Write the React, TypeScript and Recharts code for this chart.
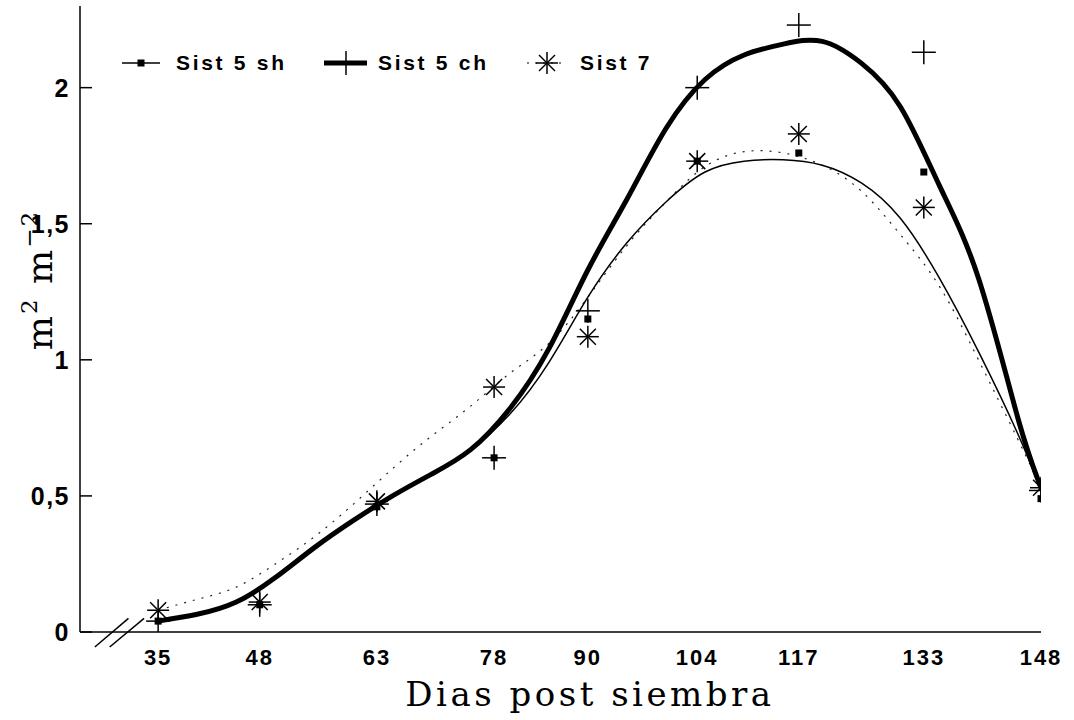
import {
  ComposedChart,
  Line,
  Scatter,
  XAxis,
  YAxis,
  Legend,
  ReferenceLine,
} from "recharts";

// observed days (x tick labels too)
const obsDays = [35, 48, 63, 78, 90, 104, 117, 133, 148];
const obsSh = [0.04, 0.1, 0.46, 0.64, 1.15, 1.73, 1.76, 1.69, 0.49];
const obsCh = [0.04, 0.1, 0.47, 0.64, 1.18, 2.0, 2.23, 2.13, 0.52];
const obs7 = [0.08, 0.11, 0.48, 0.9, 1.085, 1.73, 1.83, 1.56, 0.53];

// fitted curves
const curveDays = [35, 40, 45, 50, 55, 60, 65, 70, 75, 80, 85, 90, 95, 100, 105, 110, 115, 120, 125, 130, 135, 140, 145, 148];
const fitSh = [0.04, 0.065, 0.11, 0.2, 0.31, 0.41, 0.5, 0.58, 0.67, 0.8, 0.99, 1.23, 1.43, 1.58, 1.69, 1.73, 1.735, 1.715, 1.65, 1.52, 1.3, 1.03, 0.73, 0.52];
const fitCh = [0.04, 0.065, 0.11, 0.2, 0.31, 0.41, 0.5, 0.58, 0.67, 0.82, 1.04, 1.33, 1.59, 1.85, 2.03, 2.12, 2.16, 2.17, 2.09, 1.93, 1.64, 1.3, 0.79, 0.53];
const fit7 = [0.08, 0.12, 0.165, 0.25, 0.35, 0.47, 0.6, 0.72, 0.83, 0.95, 1.06, 1.23, 1.42, 1.58, 1.71, 1.765, 1.76, 1.715, 1.62, 1.46, 1.27, 1.0, 0.71, 0.53];

const yTicks = [0, 0.5, 1, 1.5, 2];
const seriesNames = ["Sist 5 sh", "Sist 5 ch", "Sist 7"];

const pts = (xs: number[], ys: number[]) => xs.map((x, i) => ({ x, y: ys[i] }));

const SANS = "'Liberation Sans', Arial, sans-serif";
const SERIF = "'DejaVu Serif', 'Liberation Serif', serif";

function Square({ cx, cy }: any) {
  return <rect x={cx - 3.5} y={cy - 3.5} width={7} height={7} fill="#000" />;
}

function Plus({ cx, cy }: any) {
  return (
    <g stroke="#000" strokeWidth={1.5}>
      <line x1={cx - 12} x2={cx + 12} y1={cy} y2={cy} />
      <line x1={cx} x2={cx} y1={cy - 12} y2={cy + 12} />
    </g>
  );
}

function Star({ cx, cy }: any) {
  const d = 8;
  return (
    <g stroke="#000" strokeWidth={1.5}>
      <line x1={cx - 11} x2={cx + 11} y1={cy} y2={cy} />
      <line x1={cx} x2={cx} y1={cy - 11} y2={cy + 11} />
      <line x1={cx - d} x2={cx + d} y1={cy - d} y2={cy + d} />
      <line x1={cx - d} x2={cx + d} y1={cy + d} y2={cy - d} />
    </g>
  );
}

function XTick({ x, y, payload }: any) {
  return (
    <text x={x} y={y} dy={25} textAnchor="middle" fontFamily={SANS} fontWeight="bold" fontSize={22} letterSpacing={2} fill="#000">
      {payload.value}
    </text>
  );
}

function YTick({ x, y, payload }: any) {
  return (
    <g>
      <line x1={x + 10} x2={x + 22} y1={y} y2={y} stroke="#000" strokeWidth={1.5} />
      <text x={x} y={y} dy={9} textAnchor="end" fontFamily={SANS} fontWeight="bold" fontSize={25} letterSpacing={1.5} fill="#000">
        {String(payload.value).replace(".", ",")}
      </text>
    </g>
  );
}

function YLabel() {
  return (
    <text transform="translate(52,280) rotate(-90)" textAnchor="middle" fontFamily={SERIF} fontSize={36} letterSpacing={2} fill="#000">
      m<tspan dy={-15} fontSize={23}>2</tspan>
      <tspan dy={15}> m</tspan>
      <tspan dy={-15} fontSize={23}>−2</tspan>
    </text>
  );
}

function XLabel() {
  return (
    <text x={590} y={706} textAnchor="middle" fontFamily={SERIF} fontSize={34} letterSpacing={3.5} fill="#000">
      Dias post siembra
    </text>
  );
}

function LegendBox() {
  const txt = { fontFamily: SANS, fontWeight: "bold" as const, fontSize: 21, letterSpacing: 2.7 };
  return (
    <svg width={600} height={30} style={{ display: "block" }}>
      <line x1={12} x2={50} y1={15} y2={15} stroke="#000" strokeWidth={1.5} />
      <Square cx={31} cy={15} />
      <text x={66} y={22} {...txt}>{seriesNames[0]}</text>
      <line x1={214} x2={257} y1={15} y2={15} stroke="#000" strokeWidth={5} />
      <line x1={236} x2={236} y1={3} y2={27} stroke="#000" strokeWidth={1.5} />
      <text x={268} y={22} {...txt}>{seriesNames[1]}</text>
      <line x1={417} x2={457} y1={15} y2={15} stroke="#000" strokeWidth={1.2} strokeDasharray="2 6" />
      <Star cx={437} cy={15} />
      <text x={470} y={22} {...txt}>{seriesNames[2]}</text>
    </svg>
  );
}

export default function App() {
  return (
    <div style={{ position: "absolute", left: 0, top: 0, width: 1074, height: 720, background: "#fff", fontFamily: SANS }}>
      <ComposedChart width={1074} height={720} margin={{ top: 6, right: 33, bottom: 0, left: 0 }}>
        <XAxis
          type="number"
          dataKey="x"
          domain={[25, 148]}
          ticks={obsDays}
          interval={0}
          allowDataOverflow
          tickLine={false}
          axisLine={{ stroke: "#000", strokeWidth: 1.5 }}
          tick={<XTick />}
          height={88}
          label={<XLabel />}
        />
        <YAxis
          type="number"
          dataKey="y"
          domain={[0, 2.3]}
          ticks={yTicks}
          interval={0}
          allowDataOverflow
          width={80}
          tickSize={0}
          tickMargin={10}
          tickLine={false}
          axisLine={{ stroke: "#000", strokeWidth: 1.5 }}
          tick={<YTick />}
          label={<YLabel />}
        />
        <ReferenceLine segment={[{ x: 26.9, y: -0.055 }, { x: 31.2, y: 0.05 }]} stroke="#000" strokeWidth={1.5} ifOverflow="visible" />
        <ReferenceLine segment={[{ x: 28.8, y: -0.055 }, { x: 33.2, y: 0.05 }]} stroke="#000" strokeWidth={1.5} ifOverflow="visible" />
        <Line data={pts(curveDays, fit7)} dataKey="y" type="natural" stroke="#222" strokeWidth={1.2} strokeDasharray="2 7" dot={false} isAnimationActive={false} />
        <Line data={pts(curveDays, fitSh)} dataKey="y" type="natural" stroke="#000" strokeWidth={1.5} dot={false} isAnimationActive={false} />
        <Line data={pts(curveDays, fitCh)} dataKey="y" type="natural" stroke="#000" strokeWidth={5} dot={false} isAnimationActive={false} />
        <Scatter data={pts(obsDays, obsSh)} dataKey="y" shape={<Square />} isAnimationActive={false} />
        <Scatter data={pts(obsDays, obsCh)} dataKey="y" shape={<Plus />} isAnimationActive={false} />
        <Scatter data={pts(obsDays, obs7)} dataKey="y" shape={<Star />} isAnimationActive={false} />
        <Legend
          layout="vertical"
          align="center"
          verticalAlign="middle"
          content={<LegendBox />}
          wrapperStyle={{ left: 110, top: 48, width: 600 }}
        />
      </ComposedChart>
    </div>
  );
}
